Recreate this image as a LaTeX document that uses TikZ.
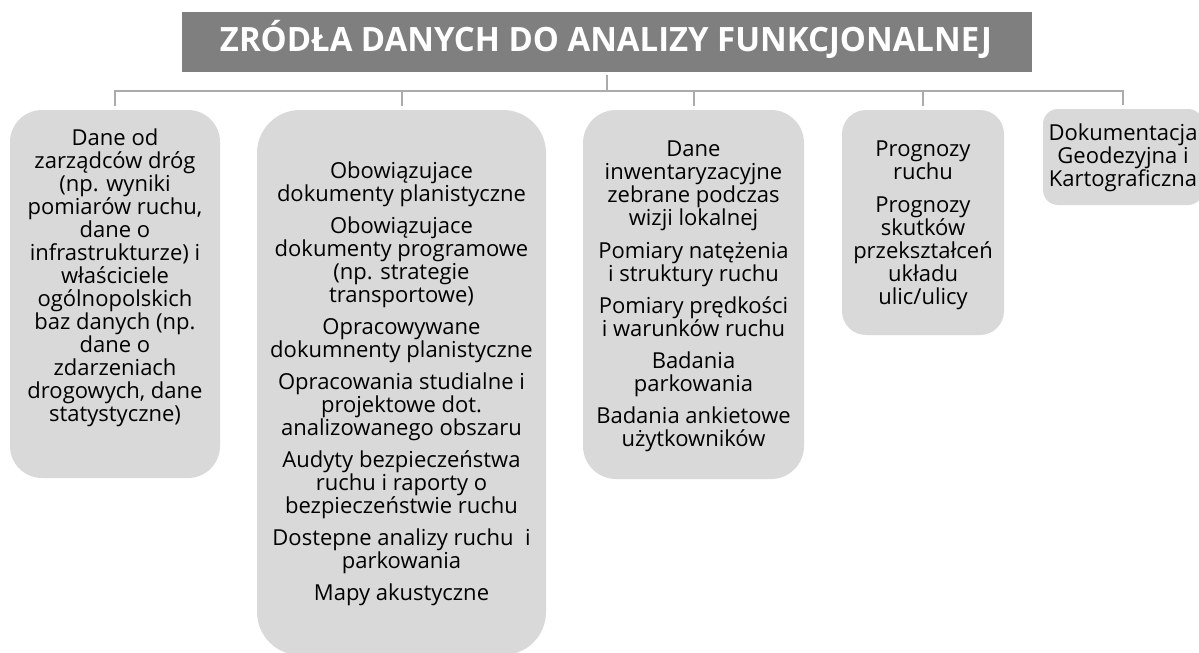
\documentclass[tikz,border=0pt]{standalone}
\usepackage{fontspec}
\setmainfont{Open Sans}
\usepackage{graphicx}
\definecolor{titlegray}{HTML}{7F7F7F}
\definecolor{boxgray}{HTML}{D9D9D9}
\definecolor{linegray}{HTML}{ABABAB}
\tikzset{
  srcbox/.style={fill=boxgray, draw=none, rectangle, inner sep=0pt},
  srctext/.style={align=center, anchor=north, inner sep=0pt, font=\fontsize{22}{23}\selectfont, text=black},
  conn/.style={draw=linegray, line width=2pt},
}
\newcommand{\firstl}{\rule{0pt}{17pt}}
\begin{document}
\begin{tikzpicture}[x=1pt,y=-1pt]
\useasboundingbox (0,0) rectangle (1199,653);
\clip (0,0) rectangle (1199,653);
% title
\node[fill=titlegray, minimum width=850pt, minimum height=60pt, inner sep=0pt] (tbox) at (607,41.5) {};
\node[anchor=base, inner sep=0pt, text=white] (ttext) at (606,51.5)
  {\resizebox{772pt}{\height}{\fontsize{33.5}{33.5}\selectfont\bfseries ZRÓDŁA DANYCH DO ANALIZY FUNKCJONALNEJ}};
% boxes
\node[srcbox, rounded corners=32pt, minimum width=210pt, minimum height=368pt] (b1) at (115,294) {};
\node[srcbox, rounded corners=43pt, minimum width=289pt, minimum height=545pt] (b2) at (401.5,382.5) {};
\node[srcbox, rounded corners=33pt, minimum width=221pt, minimum height=369pt] (b3) at (693.5,294.5) {};
\node[srcbox, rounded corners=24pt, minimum width=162pt, minimum height=225pt] (b4) at (923,222.5) {};
\node[srcbox, rounded corners=15pt, minimum width=160pt, minimum height=96pt] (b5) at (1123,157) {};
% texts
\node[srctext] (t1) at (115,128.5) {\firstl Dane od\\ zarządców dróg\\ (np. wyniki\\ pomiarów ruchu,\\ dane o\\ infrastrukturze) i\\ właściciele\\ ogólnopolskich\\ baz danych (np.\\ dane o\\ zdarzeniach\\ drogowych, dane\\ statystyczne)};
\node[srctext] (t2) at (401.5,161.5) {\firstl Obowiązujace\\ dokumenty planistyczne\\[9pt]
  Obowiązujace\\ dokumenty programowe\\ (np. strategie\\ transportowe)\\[9pt]
  Opracowywane\\ dokumnenty planistyczne\\[9pt]
  Opracowania studialne i\\ projektowe dot.\\ analizowanego obszaru\\[9pt]
  Audyty bezpieczeństwa\\ ruchu i raporty o\\ bezpieczeństwie ruchu\\[9pt]
  Dostepne analizy ruchu~ i\\ parkowania\\[9pt]
  Mapy akustyczne};
\node[srctext] (t3) at (693.5,139.5) {\firstl Dane\\ inwentaryzacyjne\\ zebrane podczas\\ wizji lokalnej\\[10pt]
  Pomiary natężenia\\ i struktury ruchu\\[9pt]
  Pomiary prędkości\\ i warunków ruchu\\[9pt]
  Badania\\ parkowania\\[9pt]
  Badania ankietowe\\ użytkowników};
\node[srctext] (t4) at (923,139.5) {\firstl Prognozy\\ ruchu\\[10pt]
  Prognozy\\ skutków\\ przekształceń\\ układu\\ ulic/ulicy};
\node[srctext] (t5) at (1123,123.5) {\firstl Dokumentacja\\ Geodezyjna i\\ Kartograficzna};
% connectors
\coordinate (bus) at (0,91);
\draw[conn] ([yshift=-3pt]tbox.south) -- (tbox.south |- bus) -| ([yshift=4pt]b1.north);
\draw[conn] ([yshift=-3pt]tbox.south) -- (tbox.south |- bus) -| ([yshift=4pt]b2.north);
\draw[conn] ([yshift=-3pt]tbox.south) -- (tbox.south |- bus) -| ([yshift=4pt]b3.north);
\draw[conn] ([yshift=-3pt]tbox.south) -- (tbox.south |- bus) -| ([yshift=4pt]b4.north);
\draw[conn] ([yshift=-3pt]tbox.south) -- (tbox.south |- bus) -| ([yshift=4pt]b5.north);
\end{tikzpicture}
\end{document}
